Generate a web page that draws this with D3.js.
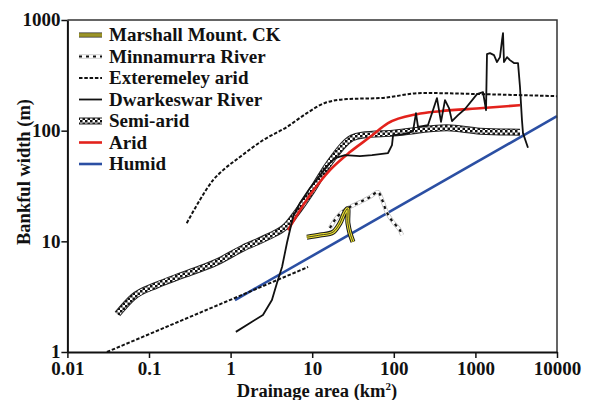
<!DOCTYPE html>
<html>
<head>
<meta charset="utf-8">
<script src="https://cdn.jsdelivr.net/npm/d3@7/dist/d3.min.js"></script>
<style>
body { margin: 0; background: #fff; }
svg text { font-family: "Liberation Serif", "Times New Roman", serif; font-weight: bold; fill: #111; }
</style>
</head>
<body>
<svg id="chart" width="591" height="400"></svg>
<script>
"use strict";



//
// Data (drainage area km2, bankful width m)
//

var xTicks = [0.01, 0.1, 1, 10, 100, 1000, 10000];
var yTicks = [1, 10, 100, 1000];

var marshallMount = [[8.6, 10.9], [12.5, 11.4], [18, 12.1], [21.9, 14.6], [25.2, 18.4], [26.7, 19.6],
    [27.4, 14.6], [29, 11.9], [31.6, 9.9]];

var minnamurra = [[16.5, 13.2], [19, 15.6], [23.2, 18.4], [29, 20.4], [38.5, 22.6], [51, 25.1], [64, 27.9],
    [72, 23.6], [83, 18], [98, 14.9], [119, 12.6], [126, 11.4]];

var extremeArid = [[0.29, 14.6], [0.42, 23.6], [0.61, 35.8], [0.81, 44], [1.3, 57.8], [2.5, 82], [4.9, 108],
    [8.6, 144], [14.3, 178], [26.7, 193], [68, 197], [228, 219], [1140, 214], [10000, 205]];

var extremeAridLow = [[0.0305, 1], [8.9, 5.86]];

var dwarkeswar = [[1.16, 1.52], [1.73, 1.83], [2.49, 2.16], [3.21, 2.95], [3.7, 4.2], [4.27, 5.86], [4.91, 9.7],
    [5.82, 16.6], [7.08, 22.2], [9.4, 30.3], [12.5, 39.7], [16.5, 51], [19, 56.5], [25.2, 60.2], [38.5, 59],
    [54, 60.2], [85, 62.8], [95, 74], [98, 91], [137, 93], [172, 99], [187, 144], [198, 108], [262, 112],
    [302, 153], [338, 197], [379, 120], [424, 189], [475, 160], [517, 122], [612, 138], [746, 157],
    [1047, 214], [1240, 223], [1350, 153], [1387, 492], [1510, 502], [1690, 482], [1840, 417], [2000, 462],
    [2120, 658], [2180, 762], [2240, 417], [2440, 462], [2650, 434], [2970, 408], [3330, 408], [3520, 248],
    [3720, 125], [3830, 95], [4410, 70]];

var semiArid = [[0.041, 2.2], [0.064, 3.14], [0.125, 4.03], [0.26, 4.96], [0.68, 6.5], [1.42, 8.7],
    [2.8, 10.9], [4.9, 14], [6.15, 17.3], [9.4, 27], [15.6, 49], [30.8, 86], [40.7, 91], [98, 95],
    [449, 106], [1140, 99], [3520, 97]];

var arid = [[5.05, 12.6], [9.4, 26.2], [16.5, 44], [29, 64], [51, 87.5], [85, 117], [192, 141],
    [368, 150], [1240, 160], [3520, 170]];

var humid = [[1.13, 2.95], [10000, 135]];

var legendLabels = ["Marshall Mount. CK", "Minnamurra River", "Exteremeley arid", "Dwarkeswar River",
    "Semi-arid", "Arid", "Humid"];
var legendKeys = ["marshall", "minnamurra", "extreme", "dwarkeswar", "semiArid", "arid", "humid"];



//
// Line styles, drawn as stacked layers
//

var lineStyles = {
    marshall: [{ stroke: "#1a1a1a", width: 5 }, { stroke: "#f0e431", width: 3 }, { stroke: "#1a1a1a", width: 0.8 }],
    minnamurra: [{ stroke: "#b5b5b5", width: 4 }, { stroke: "#fff", width: 2.8 }, { stroke: "#111", width: 2.2, dash: "3,4" }],
    extreme: [{ stroke: "#111", width: 2, dash: "3.5,1.8" }],
    dwarkeswar: [{ stroke: "#111", width: 1.8 }],
    semiArid: [{ stroke: "#222", width: 7 }, { stroke: "url(#checker)", width: 5 }],
    arid: [{ stroke: "#e3221c", width: 2.6 }],
    humid: [{ stroke: "#2b4fa3", width: 2.6 }]
};



//
// Chart
//

var svg = d3.select("#chart");

var x = d3.scaleLog().domain([0.01, 10000]).range([67.4, 557]);
var y = d3.scaleLog().domain([1, 1000]).range([352, 20]);

// Checker pattern for the semi-arid band
var pattern = svg.append("defs").append("pattern")
    .attr("id", "checker")
    .attr("patternUnits", "userSpaceOnUse")
    .attr("width", 5)
    .attr("height", 5);
pattern.append("rect").attr("width", 5).attr("height", 5).style("fill", "#fff");
pattern.append("rect").attr("width", 2.5).attr("height", 2.5).style("fill", "#111");
pattern.append("rect").attr("x", 2.5).attr("y", 2.5).attr("width", 2.5).attr("height", 2.5).style("fill", "#111");

function drawStyled (parent, points, key, lineGen) {

    lineStyles[key].forEach(function (layer) {
        parent.append("path")
            .datum(points)
            .attr("d", lineGen)
            .style("fill", "none")
            .style("stroke", layer.stroke)
            .style("stroke-width", layer.width)
            .style("stroke-dasharray", layer.dash || null)
            .style("stroke-linejoin", "round");
    });
}

var smoothLine = d3.line()
    .x(function (d) { return x(d[0]); })
    .y(function (d) { return y(d[1]); })
    .curve(d3.curveMonotoneX);

var roughLine = d3.line()
    .x(function (d) { return x(d[0]); })
    .y(function (d) { return y(d[1]); })
    .curve(d3.curveCatmullRom.alpha(1));

var straightLine = d3.line()
    .x(function (d) { return x(d[0]); })
    .y(function (d) { return y(d[1]); });

var plot = svg.append("g");

drawStyled(plot, humid, "humid", straightLine);
drawStyled(plot, extremeAridLow, "extreme", straightLine);
drawStyled(plot, semiArid, "semiArid", smoothLine);
drawStyled(plot, arid, "arid", smoothLine);
drawStyled(plot, extremeArid, "extreme", smoothLine);
drawStyled(plot, dwarkeswar, "dwarkeswar", straightLine);
drawStyled(plot, minnamurra, "minnamurra", roughLine);
drawStyled(plot, marshallMount, "marshall", roughLine);


//
// Frame and axes
//

svg.append("path")
    .attr("d", "M" + x(0.01) + "," + y(1000) + "H" + x(10000) + "V" + y(1))
    .style("fill", "none")
    .style("stroke", "#333")
    .style("stroke-width", 1.5);

var fmt = d3.format("");

var xAxis = svg.append("g")
    .attr("transform", "translate(0," + y(1) + ")")
    .call(d3.axisBottom(x).tickValues(xTicks).tickFormat(fmt).tickSize(6).tickSizeOuter(0).tickPadding(4));

var yAxis = svg.append("g")
    .attr("transform", "translate(" + x(0.01) + ",0)")
    .call(d3.axisLeft(y).tickValues(yTicks).tickFormat(fmt).tickSize(6).tickSizeOuter(0).tickPadding(1));

[xAxis, yAxis].forEach(function (axis) {
    axis.select(".domain").style("stroke", "#111").style("stroke-width", 2);
    axis.selectAll(".tick line").style("stroke", "#111").style("stroke-width", 1.5);
    axis.selectAll("text")
        .style("font-family", "'Liberation Serif', serif")
        .style("font-weight", "bold")
        .style("font-size", "19px")
        .style("fill", "#111");
});

yAxis.selectAll("text").attr("dy", "0.3em");

var xTitle = svg.append("text")
    .attr("x", 317)
    .attr("y", 397)
    .attr("text-anchor", "middle")
    .style("font-size", "18.5px")
    .text("Drainage area (km");
xTitle.append("tspan").attr("dy", -7).style("font-size", "11px").text("2");
xTitle.append("tspan").attr("dy", 7).text(")");

svg.append("text")
    .attr("transform", "translate(30,172) rotate(-90)")
    .attr("text-anchor", "middle")
    .style("font-size", "18.5px")
    .text("Bankful width (m)");


//
// Legend
//

var legend = svg.append("g");

legendKeys.forEach(function (key, i) {

    var rowY = 35 + i * 21.5;

    drawStyled(legend, [[79, rowY], [102, rowY]], key, d3.line());

    legend.append("text")
        .attr("x", 109)
        .attr("y", rowY + 6)
        .style("font-size", "19px")
        .text(legendLabels[i]);
});

</script>
</body>
</html>
